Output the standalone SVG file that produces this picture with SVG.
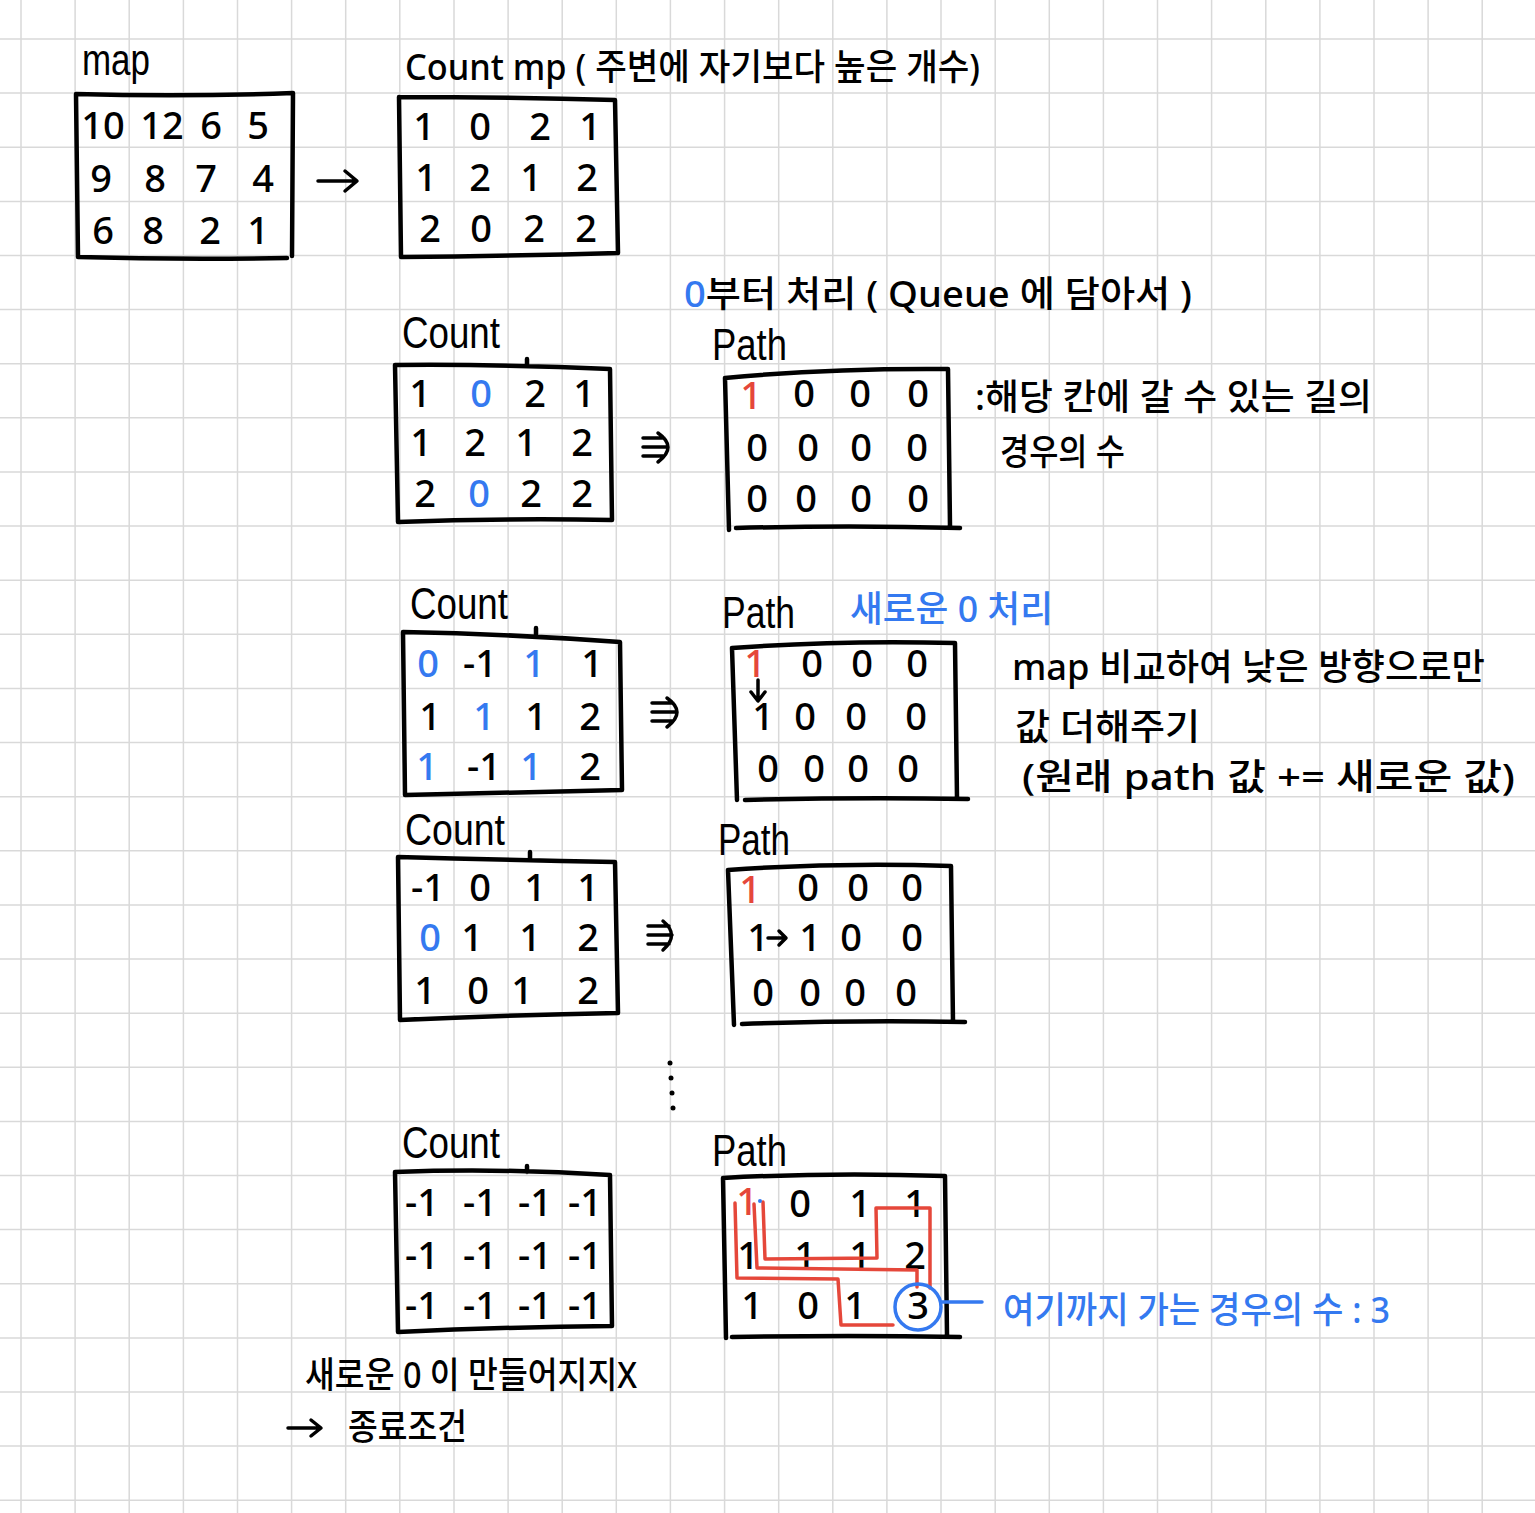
<svg xmlns="http://www.w3.org/2000/svg" width="1535" height="1513" viewBox="0 0 1535 1513">
<style>
.grid{stroke:#d9d9d9;stroke-width:1.5;fill:none}
.box{stroke:#000;stroke-width:4.5;fill:none;stroke-linecap:round;stroke-linejoin:round}
.conn{stroke:#000;stroke-width:3.5;fill:none;stroke-linecap:round;stroke-linejoin:round}
.num{font-family:"Noto Sans","Liberation Sans",sans-serif;font-size:38px;font-weight:500;text-anchor:middle;fill:#000}
.lbl{font-family:"Liberation Sans","Noto Sans",sans-serif;font-size:44px;fill:#000}
.kr{font-family:"Noto Sans","Noto Sans CJK KR",sans-serif;font-size:36px;font-weight:500;fill:#000}
.b{fill:#3479f0}
.r{fill:#e5473a}
.rl{stroke:#e5473a;stroke-width:3.5;fill:none;stroke-linecap:round;stroke-linejoin:round}
.bl{stroke:#3479f0;stroke-width:3.5;fill:none;stroke-linecap:round}
</style>
<rect width="1535" height="1513" fill="#fff"/>
<path class="grid" d="M21,0V1513M75.1,0V1513M129.2,0V1513M183.4,0V1513M237.5,0V1513M291.6,0V1513M345.7,0V1513M399.8,0V1513M454,0V1513M508.1,0V1513M562.2,0V1513M616.3,0V1513M670.4,0V1513M724.6,0V1513M778.7,0V1513M832.8,0V1513M886.9,0V1513M941,0V1513M995.2,0V1513M1049.3,0V1513M1103.4,0V1513M1157.5,0V1513M1211.6,0V1513M1265.8,0V1513M1319.9,0V1513M1374,0V1513M1428.1,0V1513M1482.2,0V1513M0,39H1535M0,93.1H1535M0,147.2H1535M0,201.4H1535M0,255.5H1535M0,309.6H1535M0,363.7H1535M0,417.8H1535M0,472H1535M0,526.1H1535M0,580.2H1535M0,634.3H1535M0,688.4H1535M0,742.6H1535M0,796.7H1535M0,850.8H1535M0,904.9H1535M0,959H1535M0,1013.2H1535M0,1067.3H1535M0,1121.4H1535M0,1175.5H1535M0,1229.6H1535M0,1283.8H1535M0,1337.9H1535M0,1392H1535M0,1446.1H1535M0,1500.2H1535"/>

<g id="map">
<text class="lbl" x="82" y="75" textLength="68" lengthAdjust="spacingAndGlyphs">map</text>
<path class="box" d="M76,94 Q185,97 293,93 L292,256 M76,94 L78,257 Q180,260 287,258"/>
<text class="num" x="103" y="139">10</text><text class="num" x="162" y="139">12</text><text class="num" x="211" y="139">6</text><text class="num" x="258" y="139">5</text>
<text class="num" x="101" y="192">9</text><text class="num" x="155" y="192">8</text><text class="num" x="206" y="192">7</text><text class="num" x="263" y="192">4</text>
<text class="num" x="103" y="244">6</text><text class="num" x="153" y="244">8</text><text class="num" x="210" y="244">2</text><text class="num" x="258" y="244">1</text>
</g>

<g id="countmp">
<text class="kr" x="405" y="80" font-size="40" textLength="575" lengthAdjust="spacingAndGlyphs">Count mp ( 주변에 자기보다 높은 개수)</text>
<path class="box" d="M399,97 Q510,97 615,100 L618,253 M399,97 L401,257 Q510,256 618,253"/>
<text class="num" x="424" y="140">1</text><text class="num" x="480" y="140">0</text><text class="num" x="540" y="140">2</text><text class="num" x="590" y="140">1</text>
<text class="num" x="426" y="191">1</text><text class="num" x="480" y="191">2</text><text class="num" x="531" y="191">1</text><text class="num" x="587" y="191">2</text>
<text class="num" x="430" y="242">2</text><text class="num" x="481" y="242">0</text><text class="num" x="534" y="242">2</text><text class="num" x="586" y="242">2</text>
</g>

<g id="queue-note">
<text class="kr" x="684" y="307" font-size="38" textLength="508" lengthAdjust="spacingAndGlyphs"><tspan class="b">0</tspan>부터 처리 ( Queue 에 담아서 )</text>
</g>

<g id="count1">
<text class="lbl" x="402" y="348" textLength="98" lengthAdjust="spacingAndGlyphs">Count</text>
<path class="box" d="M395,365 Q500,364 610,369 L612,520 M395,365 L398,522 Q505,518 612,520 M527,359 L527,365"/>
<text class="num" x="420" y="407">1</text><text class="num b" x="481" y="407">0</text><text class="num" x="535" y="407">2</text><text class="num" x="584" y="407">1</text>
<text class="num" x="421" y="456">1</text><text class="num" x="475" y="456">2</text><text class="num" x="526" y="456">1</text><text class="num" x="582" y="456">2</text>
<text class="num" x="425" y="507">2</text><text class="num b" x="479" y="507">0</text><text class="num" x="531" y="507">2</text><text class="num" x="582" y="507">2</text>
</g>

<g id="path1">
<text class="lbl" x="712" y="360" textLength="75" lengthAdjust="spacingAndGlyphs">Path</text>
<path class="box" d="M725,378 Q830,368 948,369 L950,526 M725,378 L729,530 M736,528 Q850,525 960,528"/>
<text class="num r" x="751" y="409">1</text><text class="num" x="804" y="407">0</text><text class="num" x="860" y="407">0</text><text class="num" x="918" y="407">0</text>
<text class="num" x="757" y="461">0</text><text class="num" x="808" y="461">0</text><text class="num" x="861" y="461">0</text><text class="num" x="917" y="461">0</text>
<text class="num" x="757" y="512">0</text><text class="num" x="806" y="512">0</text><text class="num" x="861" y="512">0</text><text class="num" x="918" y="512">0</text>
</g>

<g id="path-note">
<text class="kr" x="975" y="410" textLength="397" lengthAdjust="spacingAndGlyphs">:해당 칸에 갈 수 있는 길의</text>
<text class="kr" x="1000" y="465" textLength="125" lengthAdjust="spacingAndGlyphs">경우의 수</text>
</g>

<g id="count2">
<text class="lbl" x="410" y="619" textLength="98" lengthAdjust="spacingAndGlyphs">Count</text>
<path class="box" d="M403,632 Q510,634 620,642 L622,790 M403,632 L405,795 Q515,792 622,790 M536,628 L536,634"/>
<text class="num b" x="428" y="677">0</text><text class="num" x="480" y="677">-1</text><text class="num b" x="534" y="677">1</text><text class="num" x="592" y="677">1</text>
<text class="num" x="430" y="730">1</text><text class="num b" x="484" y="730">1</text><text class="num" x="536" y="730">1</text><text class="num" x="590" y="730">2</text>
<text class="num b" x="427" y="780">1</text><text class="num" x="484" y="780">-1</text><text class="num b" x="531" y="780">1</text><text class="num" x="590" y="780">2</text>
</g>

<g id="path2">
<text class="lbl" x="722" y="628" textLength="73" lengthAdjust="spacingAndGlyphs">Path</text>
<text class="kr b" x="850" y="622" textLength="203" lengthAdjust="spacingAndGlyphs">새로운 0 처리</text>
<path class="box" d="M732,648 Q840,640 955,643 L957,798 M732,648 L737,800 M745,800 Q860,797 968,799"/>
<text class="num r" x="755" y="677">1</text><text class="num" x="812" y="677">0</text><text class="num" x="862" y="677">0</text><text class="num" x="917" y="677">0</text>
<text class="num" x="763" y="730">1</text><text class="num" x="805" y="730">0</text><text class="num" x="856" y="730">0</text><text class="num" x="916" y="730">0</text>
<text class="num" x="768" y="782">0</text><text class="num" x="814" y="782">0</text><text class="num" x="858" y="782">0</text><text class="num" x="908" y="782">0</text>
</g>

<g id="map-note">
<text class="kr" x="1012" y="680" textLength="473" lengthAdjust="spacingAndGlyphs">map 비교하여 낮은 방향으로만</text>
<text class="kr" x="1015" y="740" textLength="185" lengthAdjust="spacingAndGlyphs">값 더해주기</text>
<text class="kr" x="1022" y="790" textLength="493" lengthAdjust="spacingAndGlyphs">(원래 path 값 += 새로운 값)</text>
</g>

<g id="count3">
<text class="lbl" x="405" y="845" textLength="100" lengthAdjust="spacingAndGlyphs">Count</text>
<path class="box" d="M398,857 Q505,860 615,862 L618,1013 M398,857 L400,1020 Q510,1015 618,1013 M530,852 L530,859"/>
<text class="num" x="428" y="901">-1</text><text class="num" x="480" y="901">0</text><text class="num" x="535" y="901">1</text><text class="num" x="588" y="901">1</text>
<text class="num b" x="430" y="951">0</text><text class="num" x="472" y="951">1</text><text class="num" x="530" y="951">1</text><text class="num" x="588" y="951">2</text>
<text class="num" x="425" y="1004">1</text><text class="num" x="478" y="1004">0</text><text class="num" x="522" y="1004">1</text><text class="num" x="588" y="1004">2</text>
</g>

<g id="path3">
<text class="lbl" x="718" y="855" textLength="72" lengthAdjust="spacingAndGlyphs">Path</text>
<path class="box" d="M728,870 Q840,862 951,866 L953,1022 M728,870 L734,1025 M742,1024 Q850,1020 965,1022"/>
<text class="num r" x="750" y="903">1</text><text class="num" x="808" y="901">0</text><text class="num" x="858" y="901">0</text><text class="num" x="912" y="901">0</text>
<text class="num" x="758" y="951">1</text><text class="num" x="810" y="951">1</text><text class="num" x="851" y="951">0</text><text class="num" x="912" y="951">0</text>
<text class="num" x="763" y="1006">0</text><text class="num" x="810" y="1006">0</text><text class="num" x="855" y="1006">0</text><text class="num" x="906" y="1006">0</text>
</g>

<g id="count4">
<text class="lbl" x="402" y="1158" textLength="98" lengthAdjust="spacingAndGlyphs">Count</text>
<path class="box" d="M395,1172 Q500,1168 610,1175 L612,1326 M395,1172 L398,1332 Q505,1327 612,1326 M527,1166 L527,1172"/>
<text class="num" x="422" y="1216">-1</text><text class="num" x="480" y="1216">-1</text><text class="num" x="535" y="1216">-1</text><text class="num" x="585" y="1216">-1</text>
<text class="num" x="422" y="1269">-1</text><text class="num" x="480" y="1269">-1</text><text class="num" x="535" y="1269">-1</text><text class="num" x="585" y="1269">-1</text>
<text class="num" x="422" y="1319">-1</text><text class="num" x="480" y="1319">-1</text><text class="num" x="535" y="1319">-1</text><text class="num" x="585" y="1319">-1</text>
</g>

<g id="path4">
<text class="lbl" x="712" y="1166" textLength="75" lengthAdjust="spacingAndGlyphs">Path</text>
<path class="box" d="M723,1178 Q830,1172 945,1176 L947,1335 M723,1178 L726,1338 M732,1337 Q850,1335 960,1337"/>
<text class="num" x="800" y="1217">0</text><text class="num" x="860" y="1217">1</text><text class="num" x="915" y="1217">1</text>
<text class="num" x="748" y="1269">1</text><text class="num" x="805" y="1269">1</text><text class="num" x="860" y="1269">1</text><text class="num" x="915" y="1269">2</text>
<text class="num" x="752" y="1319">1</text><text class="num" x="808" y="1319">0</text><text class="num" x="855" y="1319">1</text><text class="num" x="918" y="1319">3</text>
<text class="num r" x="747" y="1215">1</text>
<path class="rl" d="M735,1203 L737,1278 L838,1279 L841,1325 L893,1325"/>
<path class="rl" d="M754,1204 L757,1268 L917,1270 L917,1287"/>
<path class="rl" d="M763,1202 L765,1259 L877,1258 L876,1208 L930,1208 L930,1288"/>
<circle cx="760" cy="1201" r="2" fill="#3479f0"/>
<circle class="bl" cx="918" cy="1307" r="23"/>
</g>

<g id="result-note">
<text class="kr b" x="1003" y="1323" textLength="387" lengthAdjust="spacingAndGlyphs">여기까지 가는 경우의 수 : 3</text>
</g>

<g id="end-note">
<text class="kr" x="305" y="1388" textLength="332" lengthAdjust="spacingAndGlyphs">새로운 0 이 만들어지지X</text>
<text class="kr" x="348" y="1440" textLength="119" lengthAdjust="spacingAndGlyphs">종료조건</text>
</g>

<g id="connectors">
<path class="conn" d="M318,181 L356,181 M345,171 L357,181 L345,191"/>
<path class="conn" d="M643,438 L664,438 M643,447 L667,447 M643,456 L664,456 M658,433 Q678,447 658,462"/>
<path class="conn" d="M652,703 L673,703 M652,712 L676,712 M652,721 L673,721 M667,698 Q687,712 667,727"/>
<path class="conn" d="M648,926 L669,926 M648,935 L672,935 M648,944 L669,944 M663,921 Q680,935 663,950"/>
<path class="conn" d="M758,680 L758,700 M751,692 L758,701 L765,692"/>
<path class="conn" d="M768,938 L785,938 M779,931 L786,938 L779,945"/>
<path class="conn" d="M288,1428 L320,1428 M311,1420 L321,1428 L311,1436"/>
<path class="bl" d="M942,1302 L982,1302"/>
<circle cx="670" cy="1063" r="2.5"/><circle cx="671" cy="1078" r="2.5"/><circle cx="672" cy="1093" r="2.5"/><circle cx="673" cy="1108" r="2.5"/>
</g>
</svg>
